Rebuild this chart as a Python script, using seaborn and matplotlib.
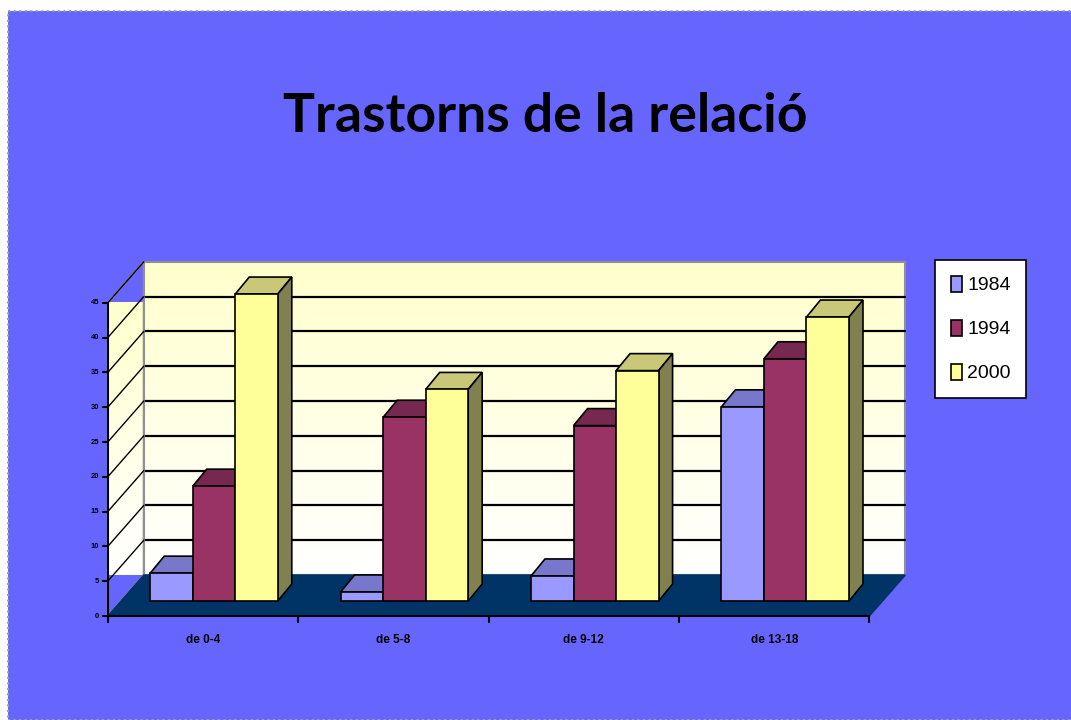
import numpy as np
import pandas as pd
import seaborn as sns
import matplotlib.pyplot as plt
from matplotlib.patches import Polygon, Rectangle

# data
edats = ['de 0-4', 'de 5-8', 'de 9-12', 'de 13-18']
anys = ['1984', '1994', '2000']
v1984 = [4.0, 1.3, 3.6, 27.9]
v1994 = [16.5, 26.4, 25.2, 34.8]
v2000 = [44.1, 30.4, 33.1, 40.8]
yticks = [0, 5, 10, 15, 20, 25, 30, 35, 40, 45]

colors = ['#9999FF', '#993366', '#FFFF99']
tops = ['#7777CC', '#772850', '#C8C878']
sides = ['#6666AA', '#662244', '#808050']

df = pd.DataFrame({
    'edat': edats * 3,
    'any': [a for a in anys for _ in edats],
    'valor': v1984 + v1994 + v2000,
})

sns.set_theme(style='white')
fam = ['Liberation Sans', 'DejaVu Sans']
plt.rcParams['font.family'] = fam
plt.rcParams['text.color'] = 'black'

W, H = 1071, 720
fig = plt.figure(figsize=(W / 100, H / 100), dpi=100, facecolor='white')
fig.patches.append(Rectangle((8 / W, 0), 1, 1 - 11 / H, transform=fig.transFigure,
                             facecolor='#6666FF', edgecolor='#A0A0A0', lw=1.5,
                             linestyle=':', zorder=-10))

# pixel scale of the bar plane
SX, SY = 190.4, 6.96
x_lo, x_hi, y_lo, y_hi = -1.0, 4.0, -8, 50
px_left = 214 + SX * x_lo
px_right = 214 + SX * x_hi
py_bot = 601 - SY * y_lo
py_top = 601 - SY * y_hi
ax = fig.add_axes([px_left / W, 1 - py_bot / H, (px_right - px_left) / W, (py_bot - py_top) / H])


def off(dx, dy):
    # pixel offset -> data offset
    return dx / SX, -dy / SY


fx, fy = off(-11, 15)   # front plane
bx, by = off(25, -26)   # back wall
dx, dy = off(14, -17)   # bar depth

# back wall with gradient
grad = np.linspace([1, 1, 0.80], [1, 1, 1], 256).reshape(256, 1, 3)
ax.imshow(grad, extent=(-0.5 + bx, 3.5 + bx, by, 45 + by), aspect='auto', zorder=0)
ax.add_patch(Rectangle((-0.5 + bx, by), 4, 45, fill=False, edgecolor='#909090', lw=1.5, zorder=1))
for v in yticks[1:-1]:
    ax.plot([-0.5 + bx, 3.5 + bx], [v + by, v + by], color='black', lw=1.6, zorder=1)

# left wall
left = Polygon([(-0.5 + fx, fy), (-0.5 + bx, by), (-0.5 + bx, 45 + by), (-0.5 + fx, 45 + fy)],
               closed=True, facecolor='none', edgecolor='#909090', lw=1.5, zorder=1)
img = ax.imshow(grad, extent=(-0.5 + fx, -0.5 + bx, by, 45 + fy), aspect='auto', zorder=0)
ax.add_patch(left)
img.set_clip_path(left)
for v in yticks[1:]:
    ax.plot([-0.5 + fx, -0.5 + bx], [v + fy, v + by], color='black', lw=1.0, zorder=1)

# floor
ax.add_patch(Polygon([(-0.5 + fx, fy), (3.5 + fx, fy), (3.5 + bx, by), (-0.5 + bx, by)],
                     closed=True, facecolor='#003366', edgecolor='#003366', zorder=2))

sns.barplot(data=df, x='edat', y='valor', hue='any', palette=colors, width=0.67,
            saturation=1, edgecolor='black', linewidth=1.2, ax=ax, legend=True)

for h, cont in enumerate(ax.containers):
    for bar in cont:
        x0, w, t = bar.get_x(), bar.get_width(), bar.get_height()
        bar.set_zorder(4 + 2 * h)
        ax.add_patch(Polygon([(x0, t), (x0 + w, t), (x0 + w + dx, t + dy), (x0 + dx, t + dy)],
                             closed=True, facecolor=tops[h], edgecolor='black', lw=1.2, zorder=3 + 2 * h))
        ax.add_patch(Polygon([(x0 + w, 0), (x0 + w, t), (x0 + w + dx, t + dy), (x0 + w + dx, dy)],
                             closed=True, facecolor=sides[h], edgecolor='black', lw=1.2, zorder=3 + 2 * h))

# axes on the front plane
ax.plot([-0.5 + fx, -0.5 + fx], [fy, 45 + fy], color='black', lw=1.5, zorder=12, clip_on=False)
ax.plot([-0.5 + fx, 3.5 + fx], [fy, fy], color='black', lw=1.5, zorder=12, clip_on=False)
for v in yticks:
    ax.plot([-0.5 + fx - 0.025, -0.5 + fx], [v + fy, v + fy], color='black', lw=1.5, zorder=12, clip_on=False)
    ax.text(-0.5 + fx - 0.045, v + fy, str(v), ha='right', va='center', fontsize=5.5,
            fontweight='bold', color='black')
for i in range(5):
    ax.plot([i - 0.5 + fx, i - 0.5 + fx], [fy, fy - 0.9], color='black', lw=1.5, zorder=12, clip_on=False)
for i, lab in enumerate(edats):
    ax.text(i + fx, fy - 3.5, lab, ha='center', va='center', fontsize=8.5,
            fontweight='bold', color='black')

ax.set_xlim(x_lo, x_hi)
ax.set_ylim(y_lo, y_hi)
ax.set_axis_off()

handles, labels = ax.get_legend_handles_labels()
leg = ax.legend(handles, labels, loc='upper left', bbox_to_anchor=(935 / W, 1 - 260 / H),
                bbox_transform=fig.transFigure, frameon=True, fancybox=False, framealpha=1,
                facecolor='white', edgecolor='black', fontsize=14, handlelength=0.6,
                handleheight=0.9, handletextpad=0.25, labelspacing=1.3, borderpad=0.8,
                borderaxespad=0, title=None, labelcolor='black')
leg.get_frame().set_linewidth(1.2)

fig.text(545 / W, 1 - 116 / H, 'Trastorns de la relació', ha='center', va='center',
         fontsize=38.5, fontweight='bold', color='black', family=['Lato', 'DejaVu Sans'])

fig.savefig('out.png', dpi=100)
